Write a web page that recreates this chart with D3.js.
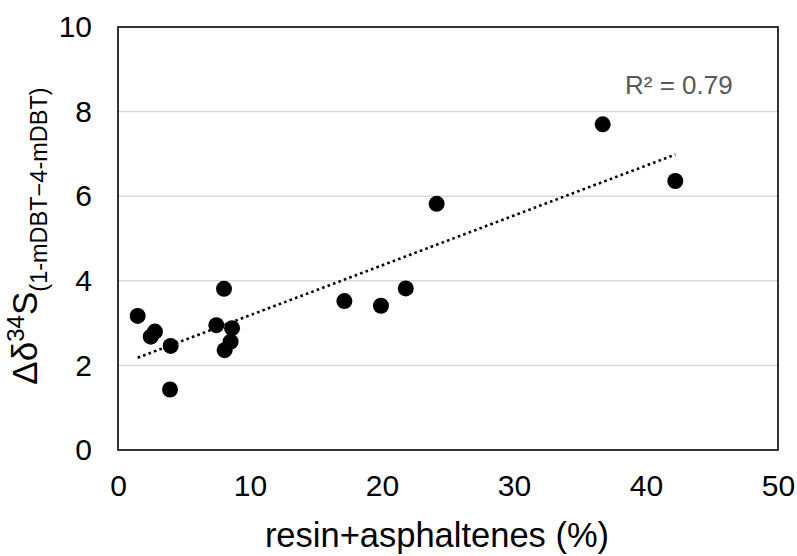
<!DOCTYPE html>
<html>
<head>
<meta charset="utf-8">
<script src="https://cdn.jsdelivr.net/npm/d3@7"></script>
<style>
  html, body { margin: 0; padding: 0; background: #fff; }
  svg { display: block; font-family: "Liberation Sans", Arial, sans-serif; }
</style>
</head>
<body>
<svg id="chart" width="797" height="556"></svg>
<script>
// Resin + asphaltene content (%) and Δδ34S between 1-mDBT and 4-mDBT
const resinAsphaltenes = [1.49, 2.48, 2.8, 3.99, 3.94, 8.03, 7.45, 8.64, 8.53, 8.08, 17.15, 19.92, 21.8, 24.14, 36.72, 42.22];
const deltaS34 = [3.17, 2.68, 2.8, 2.46, 1.43, 3.81, 2.95, 2.88, 2.56, 2.36, 3.52, 3.41, 3.82, 5.82, 7.70, 6.36];
const xTicks = [0, 10, 20, 30, 40, 50];
const yTicks = [0, 2, 4, 6, 8, 10];
const r2Label = "R² = 0.79";

const svg = d3.select("#chart");
const m = { left: 118, right: 778, top: 27, bottom: 450 };

const x = d3.scaleLinear().domain([0, 50]).range([m.left, m.right]);
const y = d3.scaleLinear().domain([0, 10]).range([m.bottom, m.top]);

// horizontal gridlines
svg.append("g")
  .selectAll("line")
  .data(yTicks.filter(t => t > 0 && t < 10))
  .join("line")
  .attr("x1", m.left).attr("x2", m.right)
  .attr("y1", d => y(d)).attr("y2", d => y(d))
  .attr("stroke", "#d9d9d9").attr("stroke-width", 1.5);

// axes (labels only; the frame is drawn separately)
const xAxis = svg.append("g")
  .attr("transform", `translate(0,${m.bottom})`)
  .call(d3.axisBottom(x).tickValues(xTicks).tickSize(0).tickPadding(25));
const yAxis = svg.append("g")
  .attr("transform", `translate(${m.left},0)`)
  .call(d3.axisLeft(y).tickValues(yTicks).tickSize(0).tickPadding(26));
[xAxis, yAxis].forEach(a => {
  a.select(".domain").remove();
  a.selectAll("text")
    .attr("font-family", "Liberation Sans, Arial, sans-serif")
    .attr("font-size", 30).attr("fill", "#000");
});

// plot frame
svg.append("rect")
  .attr("x", m.left).attr("y", m.top)
  .attr("width", m.right - m.left).attr("height", m.bottom - m.top)
  .attr("fill", "none").attr("stroke", "#000").attr("stroke-width", 1.6);

// least-squares linear trendline
const pts = resinAsphaltenes.map((v, i) => [v, deltaS34[i]]);
const mx = d3.mean(pts, p => p[0]), my = d3.mean(pts, p => p[1]);
const slope = d3.sum(pts, p => (p[0] - mx) * (p[1] - my)) / d3.sum(pts, p => (p[0] - mx) ** 2);
const intercept = my - slope * mx;
const [x0, x1] = d3.extent(resinAsphaltenes);
svg.append("line")
  .attr("x1", x(x0)).attr("y1", y(intercept + slope * x0))
  .attr("x2", x(x1)).attr("y2", y(intercept + slope * x1))
  .attr("stroke", "#000").attr("stroke-width", 2.6)
  .attr("stroke-dasharray", "2.6 3.2");

// data points
svg.append("g")
  .selectAll("circle")
  .data(pts)
  .join("circle")
  .attr("cx", d => x(d[0])).attr("cy", d => y(d[1]))
  .attr("r", 8).attr("fill", "#000");

// R² annotation
svg.append("text")
  .attr("x", 625).attr("y", 94)
  .attr("font-size", 26).attr("fill", "#595959")
  .text(r2Label);

// x-axis title
svg.append("text")
  .attr("x", 437).attr("y", 547)
  .attr("text-anchor", "middle")
  .attr("font-size", 34.5).attr("fill", "#000")
  .text("resin+asphaltenes (%)");

// y-axis title: Δδ34S with subscript
const yt = svg.append("text")
  .attr("transform", "translate(37,236) rotate(-90)")
  .attr("text-anchor", "middle")
  .attr("fill", "#000");
yt.append("tspan").attr("font-size", 35).text("Δδ");
yt.append("tspan").attr("font-size", 24).attr("dy", -13).text("34");
yt.append("tspan").attr("font-size", 35).attr("dy", 13).text("S");
yt.append("tspan").attr("font-size", 23.5).attr("dy", 10).text("(1-mDBT−4-mDBT)");
</script>
</body>
</html>
